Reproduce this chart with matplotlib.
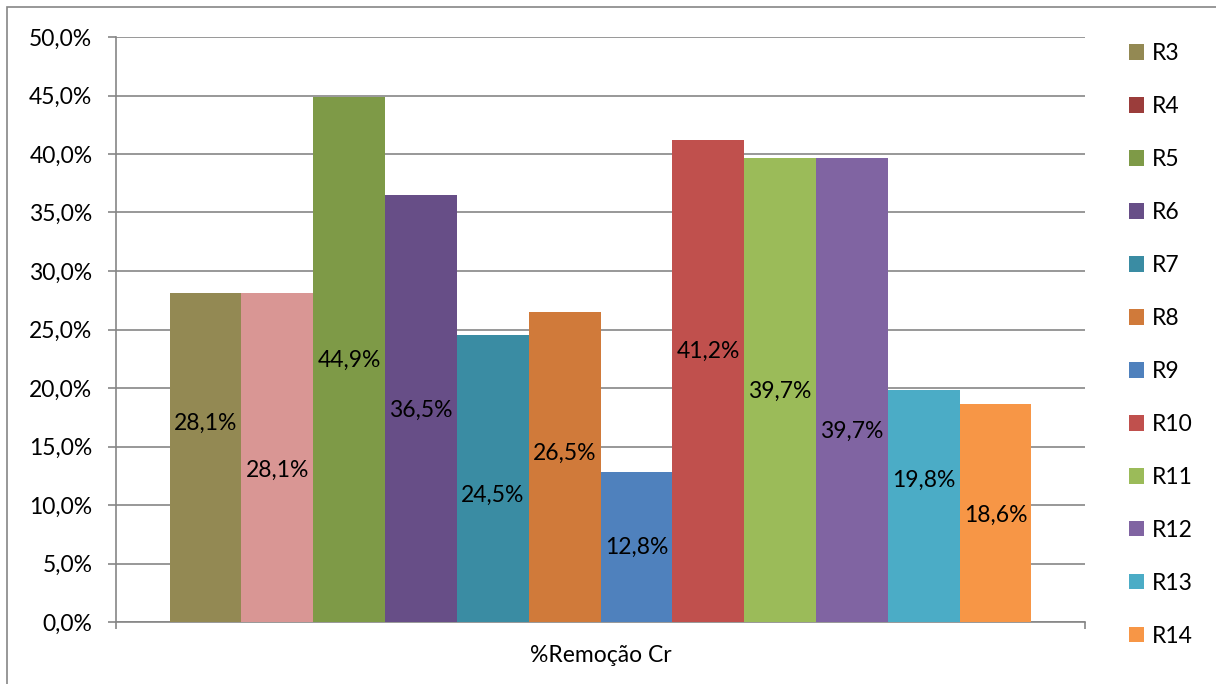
import numpy as np
import matplotlib.pyplot as plt
from matplotlib.patches import Patch, Rectangle

# data
series = ['R3', 'R4', 'R5', 'R6', 'R7', 'R8', 'R9', 'R10', 'R11', 'R12', 'R13', 'R14']
values = [28.1, 28.1, 44.9, 36.5, 24.5, 26.5, 12.8, 41.2, 39.7, 39.7, 19.8, 18.6]
category = '%Remoção Cr'

# label heights (in %), as placed in the original chart
label_pos = [17.0, 13.0, 22.4, 18.1, 10.8, 14.4, 6.4, 23.1, 19.7, 16.3, 12.1, 9.1]

bar_colors = ['#938953', '#D99694', '#7E9A47', '#674E87', '#3A8CA3', '#D07A3A',
              '#4F81BD', '#C0504D', '#9BBB59', '#8064A2', '#4BACC6', '#F79646']
legend_colors = ['#938953', '#9B3D3B', '#7E9A47', '#674E87', '#3A8CA3', '#D07A3A',
                 '#4F81BD', '#C0504D', '#9BBB59', '#8064A2', '#4BACC6', '#F79646']

plt.rcParams['font.family'] = ['Lato', 'DejaVu Sans']
grid_c = '#868686'
fs = 16.5

fig = plt.figure(figsize=(12.16, 6.84), dpi=100)
ax = fig.add_axes([116/1216, 1-622/684, (1085-116)/1216, (622-37)/684])

n = len(values)
x = np.arange(n) - (n-1)/2
ax.bar(x, values, width=1.0, color=bar_colors, zorder=3)
for xi, v, lp in zip(x, values, label_pos):
    ax.text(xi, lp, f'{v:.1f}%'.replace('.', ','), ha='center', va='center',
            fontsize=fs, zorder=4)

ax.set_xlim(-6.745, 6.745)
ax.set_ylim(0, 50)
yt = np.arange(0, 51, 5)
ax.set_yticks(yt)
ax.set_yticklabels([f'{t:.1f}%'.replace('.', ',') for t in yt], fontsize=fs)
ax.yaxis.grid(True, color=grid_c, linewidth=1.2, zorder=0)
ax.tick_params(axis='y', length=6, color=grid_c, width=1.2, pad=11)
ax.set_xticks([-6.745, 6.745])
ax.set_xticklabels([])
ax.tick_params(axis='x', length=5, color=grid_c, width=1.2)
ax.text(0, -0.04, category, transform=ax.get_xaxis_transform(), ha='center', va='top', fontsize=fs)

for s in ['top', 'right']:
    ax.spines[s].set_visible(False)
for s in ['left', 'bottom']:
    ax.spines[s].set_color(grid_c)
    ax.spines[s].set_linewidth(1.2)

handles = [Patch(facecolor=c, label=s) for c, s in zip(legend_colors, series)]
leg = fig.legend(handles=handles, loc='upper left', bbox_to_anchor=(1120/1216, 1-34/684),
                 frameon=False, fontsize=fs, handlelength=0.65, handleheight=0.65,
                 handletextpad=0.35, labelspacing=1.395, borderaxespad=0)

# outer chart border
fig.patches.append(Rectangle((7/1216, -0.1), 1.2, 1-7/684+0.1, transform=fig.transFigure,
                             fill=False, edgecolor=grid_c, linewidth=1.2))

fig.savefig('out.png', dpi=100)
